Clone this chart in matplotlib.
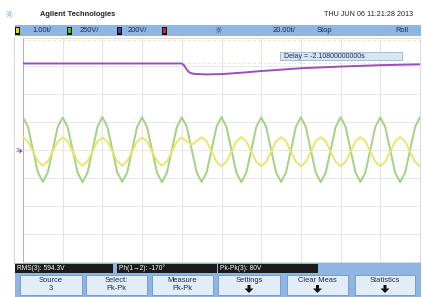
import numpy as np
import matplotlib
matplotlib.use("Agg")
import matplotlib.pyplot as plt
from matplotlib.patches import Rectangle, Polygon

plt.rcParams['font.family'] = ['Liberation Sans', 'DejaVu Sans']

# ---------------- data (divisions; 20 ms/div) ----------------
time_div = np.linspace(0, 10, 81)

ch2_green = [
    1.17, 0.83, 0.01, -0.80, -1.14, -0.80, 0.01, 0.83,
    1.16, 0.82, 0.00, -0.81, -1.15, -0.81, 0.00, 0.82,
    1.18, 0.83, 0.01, -0.80, -1.14, -0.80, 0.01, 0.83,
    1.17, 0.82, 0.00, -0.81, -1.15, -0.81, 0.00, 0.82,
    1.17, 0.83, 0.01, -0.80, -1.14, -0.80, 0.01, 0.83,
    1.18, 0.82, 0.00, -0.81, -1.15, -0.81, 0.00, 0.82,
    1.16, 0.83, 0.01, -0.80, -1.14, -0.80, 0.01, 0.83,
    1.17, 0.82, 0.00, -0.81, -1.15, -0.81, 0.00, 0.82,
    1.17, 0.83, 0.01, -0.80, -1.14, -0.80, 0.01, 0.83,
    1.16, 0.82, 0.00, -0.81, -1.15, -0.81, 0.00, 0.82,
    1.17]

ch1_yellow = [
    0.45, 0.30, -0.05, -0.40, -0.56, -0.40, -0.05, 0.30,
    0.45, 0.30, -0.05, -0.40, -0.56, -0.40, -0.05, 0.30,
    0.45, 0.30, -0.05, -0.40, -0.56, -0.40, -0.05, 0.30,
    0.45, 0.30, -0.05, -0.40, -0.56, -0.40, -0.05, 0.30,
    0.45, 0.31, 0.19, 0.32, 0.46, 0.31, -0.05, -0.42,
    -0.58, -0.42, -0.06, 0.31, 0.46, 0.31, -0.06, -0.42,
    -0.58, -0.42, -0.06, 0.31, 0.46, 0.31, -0.06, -0.42,
    -0.58, -0.42, -0.06, 0.31, 0.46, 0.31, -0.06, -0.42,
    -0.58, -0.42, -0.06, 0.31, 0.46, 0.31, -0.06, -0.42,
    -0.58, -0.42, -0.06, 0.31, 0.46, 0.31, -0.06, -0.42,
    -0.58]

ch3_time = [0.0, 4.0, 4.06, 4.12, 4.2, 4.3, 4.6, 5.0, 5.5, 6.0, 7.0, 8.0, 9.0, 10.0]
ch3_purple = [3.09, 3.09, 3.02, 2.88, 2.76, 2.72, 2.70, 2.71, 2.76, 2.82, 2.92, 2.98, 3.03, 3.06]

ch_scales = ["1.00t/", "250V/", "200V/", ""]
timebase = "20.00t/"
meas_labels = ["RMS(3): 594.3V", "Ph(1→2): -170°", "Pk-Pk(3): 80V"]
softkeys = [("Source", "3"), ("Select:", "Pk-Pk"), ("Measure", "Pk-Pk"),
            ("Settings", None), ("Clear Meas", None), ("Statistics", None)]

W, H = 423, 297
fig = plt.figure(figsize=(W / 100, H / 100), dpi=100, facecolor="white")

# ---------------- main scope area ----------------
L, R, T, B = 23, 420, 38, 262
ax = fig.add_axes([L / W, 1 - B / H, (R - L) / W, (B - T) / H])
ax.set_xlim(0, 10)
ax.set_ylim(-4, 4)
ax.set_facecolor("white")
for v in range(1, 10):
    ax.axvline(v, color="#dedede", lw=0.6, zorder=1)
for v in range(-3, 4):
    ax.axhline(v, color="#e4e4e4", lw=0.6, zorder=1)
ax.axhline(3.09, color="#f3dcc0", lw=0.6, ls=(0, (3, 3)), zorder=1)
ax.axhline(3.93, color="#f3dcc0", lw=0.6, ls=(0, (3, 3)), zorder=1)
ax.set_xticks([]); ax.set_yticks([])
for s in ax.spines.values():
    s.set_color("#d4d4d4"); s.set_linewidth(0.6)
ax.spines["left"].set_color("#b79aa0")

ax.plot(time_div, ch2_green, color="#a2d283", lw=1.4, zorder=3, solid_joinstyle="round")
ax.plot(time_div, ch1_yellow, color="#ede46e", lw=1.4, zorder=4, solid_joinstyle="round")
ax.plot(ch3_time, ch3_purple, color="#9a4fbf", lw=1.4, zorder=5)

# ---------------- overlay (decorations in pixel coords) ----------------
ov = fig.add_axes([0, 0, 1, 1], zorder=10)
ov.set_xlim(0, W); ov.set_ylim(H, 0); ov.axis("off"); ov.patch.set_alpha(0)

ov.plot([14, 14], [37, 263], color="#cfcfcf", lw=0.6)

# header
ov.text(9, 15, "☼", color="#5aa0d8", fontsize=7, ha="center", va="center", family=["DejaVu Sans"])
ov.text(40, 15, "Agilent Technologies", fontsize=5.4, fontweight="bold", color="#222222", va="center")
ov.text(413, 15, "THU JUN 06 11:21:28 2013", fontsize=5.2, color="#222222", va="center", ha="right")

# blue status bar
blue = "#8fb6e2"
ov.add_patch(Rectangle((15, 25), 406, 11, facecolor=blue, edgecolor="none"))
box_cols = ["#e8d820", "#50c030", "#5a3aa0", "#d02040"]
box_x = [15, 67, 117, 162]
for bx, c in zip(box_x, box_cols):
    ov.add_patch(Rectangle((bx, 26.5), 5, 8, facecolor="#111111", edgecolor="none"))
    ov.add_patch(Rectangle((bx + 1.3, 28), 2.4, 5, facecolor=c, edgecolor="none"))
for tx, s in zip([32, 80, 128], ch_scales[:3]):
    ov.text(tx, 30.5, s, fontsize=5.4, color="#1d2b4f", va="center")
ov.text(218, 30.5, "☼", fontsize=6, color="#1d2b4f", va="center", ha="center", family=["DejaVu Sans"])
ov.text(273, 30.5, timebase, fontsize=5.4, color="#1d2b4f", va="center")
ov.text(317, 30.5, "Stop", fontsize=5.4, color="#1d2b4f", va="center")
ov.text(395, 30.5, "Roll", fontsize=5.4, color="#1d2b4f", va="center")

# delay box
ov.add_patch(Rectangle((280, 52), 122, 8, facecolor="#d6e6f4", edgecolor="#8aa8c8", lw=0.5))
ov.text(284, 56, "Delay = -2.10800000000s", fontsize=5, color="#1d2b4f", va="center")

# ground marker for ch3
ov.text(16, 151, "3", fontsize=4.5, color="#8a3fb0", va="center", ha="left")
ov.add_patch(Polygon([(19.5, 148.5), (22.5, 151), (19.5, 153.5)], closed=True,
                     facecolor="#8a3fb0", edgecolor="none"))

# measurement bar
ov.add_patch(Rectangle((15, 263), 406, 34, facecolor=blue, edgecolor="none"))
for (x0, x1), lab in zip([(15, 113), (117, 217), (218, 318)], meas_labels):
    ov.add_patch(Rectangle((x0, 263.5), x1 - x0, 9, facecolor="#1b1b1b", edgecolor="none"))
    ov.text(x0 + 2, 268, lab, fontsize=4.8, color="white", va="center")

# softkeys
key_x = [(20, 82), (86, 147), (152, 213), (218, 280), (287, 348), (355, 415)]
for (x0, x1), (l1, l2) in zip(key_x, softkeys):
    ov.add_patch(Rectangle((x0, 275), x1 - x0, 20, facecolor="#e2edf8", edgecolor="#6f97c4", lw=0.6))
    cx = (x0 + x1) / 2
    ov.text(cx, 280.5, l1, fontsize=5.4, color="#1d2b4f", ha="center", va="center")
    if l2 is not None:
        ov.text(cx, 288, l2, fontsize=5.4, color="#1d2b4f", ha="center", va="center")
    else:
        ov.add_patch(Polygon([(cx - 1.5, 285), (cx + 1.5, 285), (cx + 1.5, 288.5), (cx + 4.5, 288.5),
                              (cx, 293), (cx - 4.5, 288.5), (cx - 1.5, 288.5)],
                             closed=True, facecolor="#111111", edgecolor="none"))

fig.savefig("out.png", dpi=100, facecolor="white")
